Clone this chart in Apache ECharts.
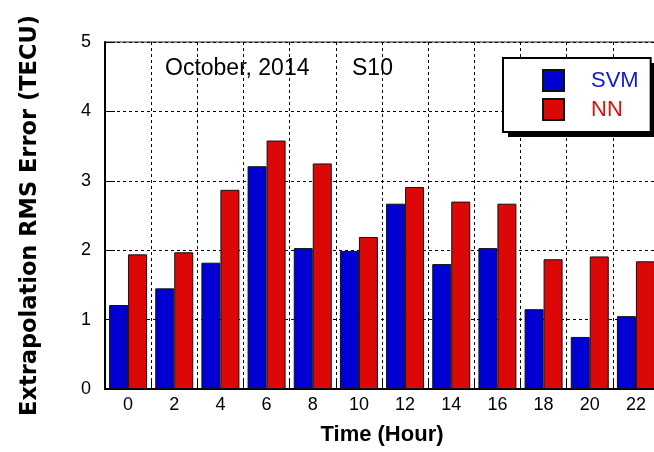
<!DOCTYPE html>
<html>
<head>
<meta charset="utf-8">
<script src="https://cdn.jsdelivr.net/npm/echarts@6/dist/echarts.min.js"></script>
<style>
  html, body { margin: 0; padding: 0; background: #fff; }
  #main { width: 654px; height: 452px; }
</style>
</head>
<body>
<div id="main"></div>
<script>
var hours = ['0', '2', '4', '6', '8', '10', '12', '14', '16', '18', '20', '22'];
var svmErr = [1.21, 1.45, 1.82, 3.21, 2.03, 1.99, 2.67, 1.80, 2.03, 1.15, 0.75, 1.05];
var nnErr = [1.94, 1.97, 2.87, 3.58, 3.25, 2.19, 2.91, 2.70, 2.67, 1.87, 1.91, 1.84];
var yTicks = [0, 1, 2, 3, 4, 5];

var blue = '#0000d2';
var red = '#dc0808';
var font = 'Liberation Sans, Arial, sans-serif';

var chart = echarts.init(document.getElementById('main'));
var option = {
    backgroundColor: '#fff',
    animation: false,
    grid: {
        left: 105,
        top: 42,
        width: 554,
        height: 347,
        show: true,
        borderColor: '#222',
        borderWidth: 1,
        outerBoundsMode: 'none'
    },
    legend: {
        orient: 'vertical',
        left: 503,
        top: 58,
        z: 10,
        icon: 'rect',
        padding: [11, 12, 11, 39],
        itemWidth: 21,
        itemHeight: 21,
        itemGap: 6,
        backgroundColor: '#fff',
        borderColor: '#000',
        borderWidth: 2,
        borderRadius: 0,
        textStyle: { fontFamily: font, fontSize: 22, padding: [0, 0, 0, 22] },
        data: [
            { name: 'SVM', textStyle: { color: '#1414dc' } },
            { name: 'NN', textStyle: { color: '#dc1010' } }
        ]
    },
    xAxis: {
        type: 'category',
        data: hours,
        name: 'Time (Hour)',
        nameLocation: 'middle',
        nameGap: 35,
        nameTextStyle: { fontFamily: font, fontWeight: 'bold', fontSize: 22, color: '#000' },
        axisLine: { lineStyle: { color: '#000', width: 2 } },
        axisTick: { show: true, inside: true, length: 8, lineStyle: { color: '#000' } },
        axisLabel: { fontFamily: font, fontSize: 18, color: '#000', margin: 7 },
        splitLine: { show: true, lineStyle: { color: '#000', type: [3, 3], width: 1 } }
    },
    yAxis: {
        type: 'value',
        min: yTicks[0],
        max: yTicks[yTicks.length - 1],
        interval: 1,
        name: 'Extrapolation RMS Error (TECU)',
        nameLocation: 'middle',
        nameGap: 63,
        nameTextStyle: { fontFamily: 'DejaVu Sans, sans-serif', fontWeight: 'bold', fontSize: 22.5, color: '#000' },
        axisLine: { show: true, lineStyle: { color: '#000', width: 2 } },
        axisTick: { show: true, inside: true, length: 10, lineStyle: { color: '#000' } },
        axisLabel: { fontFamily: font, fontSize: 18, color: '#000', margin: 14 },
        splitLine: { show: true, lineStyle: { color: '#000', type: [3, 3], width: 1 } }
    },
    graphic: [
        {
            // legend drop shadow
            type: 'rect', z: 9,
            shape: { x: 508, y: 63, width: 150, height: 74 },
            style: { fill: '#000' }
        },
        {
            type: 'text', left: 165, top: 57,
            style: { text: 'October, 2014', fontFamily: font, fontSize: 23, fill: '#000' }
        },
        {
            type: 'text', left: 352, top: 57,
            style: { text: 'S10', fontFamily: font, fontSize: 23, fill: '#000' }
        }
    ],
    series: [
        {
            name: 'SVM',
            type: 'bar',
            data: svmErr,
            barWidth: 19,
            barGap: '0%',
            itemStyle: { color: blue, borderColor: '#111', borderWidth: 1 }
        },
        {
            name: 'NN',
            type: 'bar',
            data: nnErr,
            barWidth: 19,
            barGap: '0%',
            itemStyle: { color: red, borderColor: '#111', borderWidth: 1 }
        }
    ]
};
chart.setOption(option);
</script>
</body>
</html>
